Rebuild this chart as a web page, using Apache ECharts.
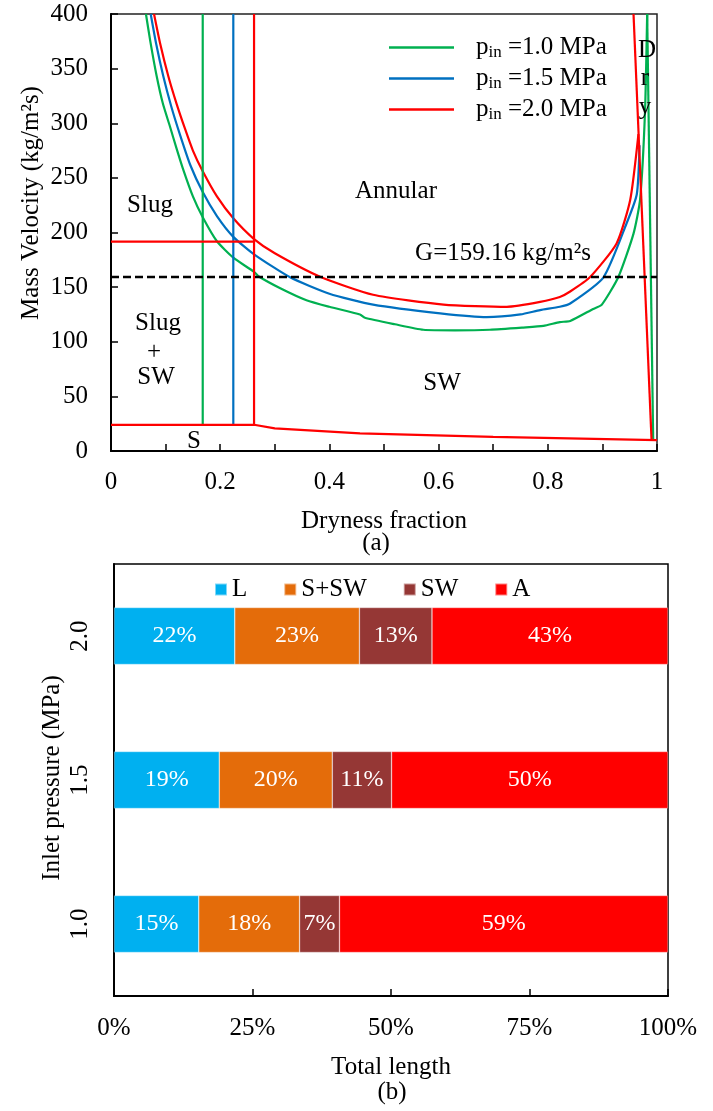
<!DOCTYPE html>
<html>
<head>
<meta charset="utf-8">
<script src="https://cdn.jsdelivr.net/npm/echarts@6/dist/echarts.min.js"></script>
<style>
html,body{margin:0;padding:0;background:#fff;}
#main{width:713px;height:1111px;}
</style>
</head>
<body>
<div id="main"></div>
<script>
var FONT = 'Liberation Serif, Times New Roman, serif';
var FS = 25;

// (a) flow pattern map, points are [dryness fraction, mass velocity]
var annular10 = [[0.064,400],[0.072,375],[0.0837,343],[0.095,318],[0.108,297],[0.12,277],[0.132,258],[0.15,233],
    [0.168,214],[0.194,192],[0.224,177],[0.262,164],[0.27,160],[0.31,149],[0.358,138],[0.40,132],[0.456,125],
    [0.465,122],[0.52,116],[0.572,111],[0.63,110.5],[0.694,111],[0.755,113],[0.792,114.5],[0.822,118],
    [0.841,119],[0.883,130],[0.899,134],[0.929,159],[0.957,199],[0.969,230],[0.978,310],[0.982,400]];
var annular15 = [[0.0727,400],[0.083,372],[0.0958,343],[0.11,316],[0.126,290],[0.145,262],[0.168,237],[0.194,215],
    [0.224,196],[0.262,180],[0.328,159],[0.40,144],[0.48,134],[0.603,126],[0.688,122.5],[0.75,125],
    [0.786,129],[0.822,132],[0.841,135],[0.902,159],[0.944,208],[0.963,235],[0.968,280]];
var annular20 = [[0.0788,400],[0.09,373],[0.105,343],[0.12,318],[0.1355,295],[0.15,275],[0.168,256],[0.194,233],
    [0.224,213],[0.262,194],[0.3,181],[0.383,159.5],[0.48,143],[0.609,134],[0.725,132],[0.786,136.5],
    [0.822,141],[0.841,146],[0.877,159],[0.926,190],[0.951,230],[0.966,290]];
var dryout10 = [[0.982,400],[0.993,10]];
var dryout20 = [[0.957,400],[0.99,10]];
var slugX = [0.168, 0.224, 0.262];      // 1.0, 1.5, 2.0 MPa
var slugY = [24, 400];
var slugLine20 = [[0,191.6],[0.262,191.6]];
var strat20 = [[0,24],[0.262,24],[0.3,20.7],[0.456,16.2],[0.7,13],[1,10]];
var gMass = 159.16;
var pinColors = ['#00B050','#0070C0','#FF0000'];

// (b) share of total length per pattern
var pressures = ['1.0','1.5','2.0'];
var patterns = ['L','S+SW','SW','A'];
var shareL   = [15.3, 19.0, 21.8];
var shareSSW = [18.2, 20.4, 22.5];
var shareSW  = [7.2, 10.7, 13.1];
var shareA   = [59.3, 49.9, 42.6];
var barColors = ['#00B0F0','#E46C0A','#953735','#FF0000'];

var myChart = echarts.init(document.getElementById('main'));

function lineSeries(name, data, color, smooth) {
    return {
        name: name,
        type: 'line',
        xAxisIndex: 0, yAxisIndex: 0,
        data: data,
        symbol: 'none',
        smooth: smooth ? 0.2 : false,
        color: color,
        itemStyle: {color: color},
        lineStyle: {color: color, width: 2.2},
        silent: true
    };
}

var series = [];
series.push(lineSeries('p1.0', annular10, pinColors[0], true));
series.push(lineSeries('p1.5', annular15, pinColors[1], true));
series.push(lineSeries('p2.0', annular20, pinColors[2], true));
for (var i = 0; i < slugX.length; i++) {
    series.push(lineSeries('slug' + i, [[slugX[i], slugY[0]], [slugX[i], slugY[1]]], pinColors[i], false));
}
series.push(lineSeries('dry10', dryout10, pinColors[0], false));
series.push(lineSeries('dry20', dryout20, pinColors[2], false));
series.push(lineSeries('slugH', slugLine20, pinColors[2], false));
series.push(lineSeries('strat', strat20, pinColors[2], false));
var gl = lineSeries('G', [[0, gMass], [1, gMass]], '#000', false);
gl.lineStyle = {color: '#000', width: 2.5, type: [8, 4]};
series.push(gl);

var shares = [shareL, shareSSW, shareSW, shareA];
for (var k = 0; k < patterns.length; k++) {
    series.push({
        name: patterns[k],
        type: 'bar',
        stack: 'total',
        xAxisIndex: 1, yAxisIndex: 1,
        barWidth: 57,
        data: shares[k],
        itemStyle: {color: barColors[k], borderColor: 'rgba(255,255,255,0.5)', borderWidth: 0.6},
        label: {
            show: true,
            position: 'inside',
            color: '#fff',
            fontFamily: FONT,
            fontSize: 24,
            formatter: function (p) { return Math.round(p.value) + '%'; }
        }
    });
}

function txt(text, x, y, extra) {
    var el = {
        type: 'text',
        x: x, y: y,
        style: {
            text: text,
            font: FS + 'px ' + FONT,
            fill: '#000',
            align: 'center', verticalAlign: 'middle',
            textAlign: 'center', textVerticalAlign: 'middle'
        },
        z: 100
    };
    if (extra) { for (var key in extra) el[key] = extra[key]; }
    return el;
}

option = {
    animation: false,
    backgroundColor: '#fff',
    grid: [
        {left: 111, top: 14, width: 546, height: 437, show: true, borderColor: '#222', borderWidth: 1.5},
        {left: 114, top: 564, width: 554, height: 432, show: true, borderColor: '#000', borderWidth: 1.5}
    ],
    legend: [
        {
            data: ['p1.0','p1.5','p2.0'],
            orient: 'vertical',
            left: 389, top: 35,
            padding: 0,
            icon: 'rect',
            itemWidth: 65, itemHeight: 2.5,
            itemGap: 5,
            selectedMode: false,
            formatter: function (name) {
                return '{a|p}{b|in}{c| =' + name.slice(1) + ' MPa}';
            },
            textStyle: {
                fontFamily: FONT, fontSize: FS, color: '#000',
                rich: {
                    a: {fontFamily: FONT, fontSize: FS, lineHeight: 27, color: '#000', padding: [0, 0, 0, 17]},
                    b: {fontFamily: FONT, fontSize: 17, lineHeight: 17, color: '#000', verticalAlign: 'bottom'},
                    c: {fontFamily: FONT, fontSize: FS, lineHeight: 27, color: '#000'}
                }
            }
        },
        {
            data: patterns,
            orient: 'horizontal',
            left: 214, top: 577,
            padding: 0,
            icon: 'rect',
            itemWidth: 12, itemHeight: 12,
            itemGap: 36,
            selectedMode: false,
            textStyle: {fontFamily: FONT, fontSize: FS, color: '#000'}
        }
    ],
    xAxis: [
        {
            gridIndex: 0,
            type: 'value',
            min: 0, max: 1, interval: 0.1,
            name: 'Dryness fraction',
            nameLocation: 'middle',
            nameGap: 58,
            nameTextStyle: {fontFamily: FONT, fontSize: FS, color: '#000'},
            axisLine: {show: true, onZero: false, lineStyle: {color: '#000', width: 2}},
            axisTick: {show: true, inside: true, length: 7, lineStyle: {color: '#000', width: 1.5}},
            axisLabel: {
                fontFamily: FONT, fontSize: FS, color: '#000', margin: 19,
                formatter: function (v) {
                    return Math.round(v * 10) % 2 === 0 ? String(Math.round(v * 10) / 10) : '';
                }
            },
            splitLine: {show: false}
        },
        {
            gridIndex: 1,
            type: 'value',
            min: 0, max: 100, interval: 25,
            name: 'Total length',
            nameLocation: 'middle',
            nameGap: 59,
            nameTextStyle: {fontFamily: FONT, fontSize: FS, color: '#000'},
            axisLine: {show: true, onZero: false, lineStyle: {color: '#000', width: 2}},
            axisTick: {show: true, inside: true, length: 7, lineStyle: {color: '#000', width: 1.5}},
            axisLabel: {fontFamily: FONT, fontSize: FS, color: '#000', margin: 20, formatter: '{value}%'},
            splitLine: {show: false}
        }
    ],
    yAxis: [
        {
            gridIndex: 0,
            type: 'value',
            min: 0, max: 400, interval: 50,
            axisLine: {show: true, onZero: false, lineStyle: {color: '#000', width: 2}},
            axisTick: {show: true, inside: true, length: 7, lineStyle: {color: '#000', width: 1.5}},
            axisLabel: {fontFamily: FONT, fontSize: FS, color: '#000', margin: 23},
            splitLine: {show: false}
        },
        {
            gridIndex: 1,
            type: 'category',
            data: pressures,
            axisLine: {show: true, onZero: false, lineStyle: {color: '#000', width: 2}},
            axisTick: {show: false},
            axisLabel: {fontFamily: FONT, fontSize: FS, color: '#000', rotate: 90, margin: 21},
            splitLine: {show: false}
        }
    ],
    series: series,
    graphic: [
        txt('Mass Velocity (kg/m²s)', 31, 203, {rotation: Math.PI / 2}),
        txt('Inlet pressure (MPa)', 52, 778, {rotation: Math.PI / 2}),
        txt('(a)', 376, 543),
        txt('(b)', 392, 1092),
        txt('Slug', 150, 205),
        txt('Annular', 396, 191),
        txt('G=159.16 kg/m²s', 503, 253),
        txt('Slug', 158, 323),
        txt('+', 154, 352),
        txt('SW', 156, 377),
        txt('SW', 442, 383),
        txt('S', 194, 441),
        txt('D', 647, 50),
        txt('r', 645, 78),
        txt('y', 645, 107)
    ]
};
myChart.setOption(option);
</script>
</body>
</html>
